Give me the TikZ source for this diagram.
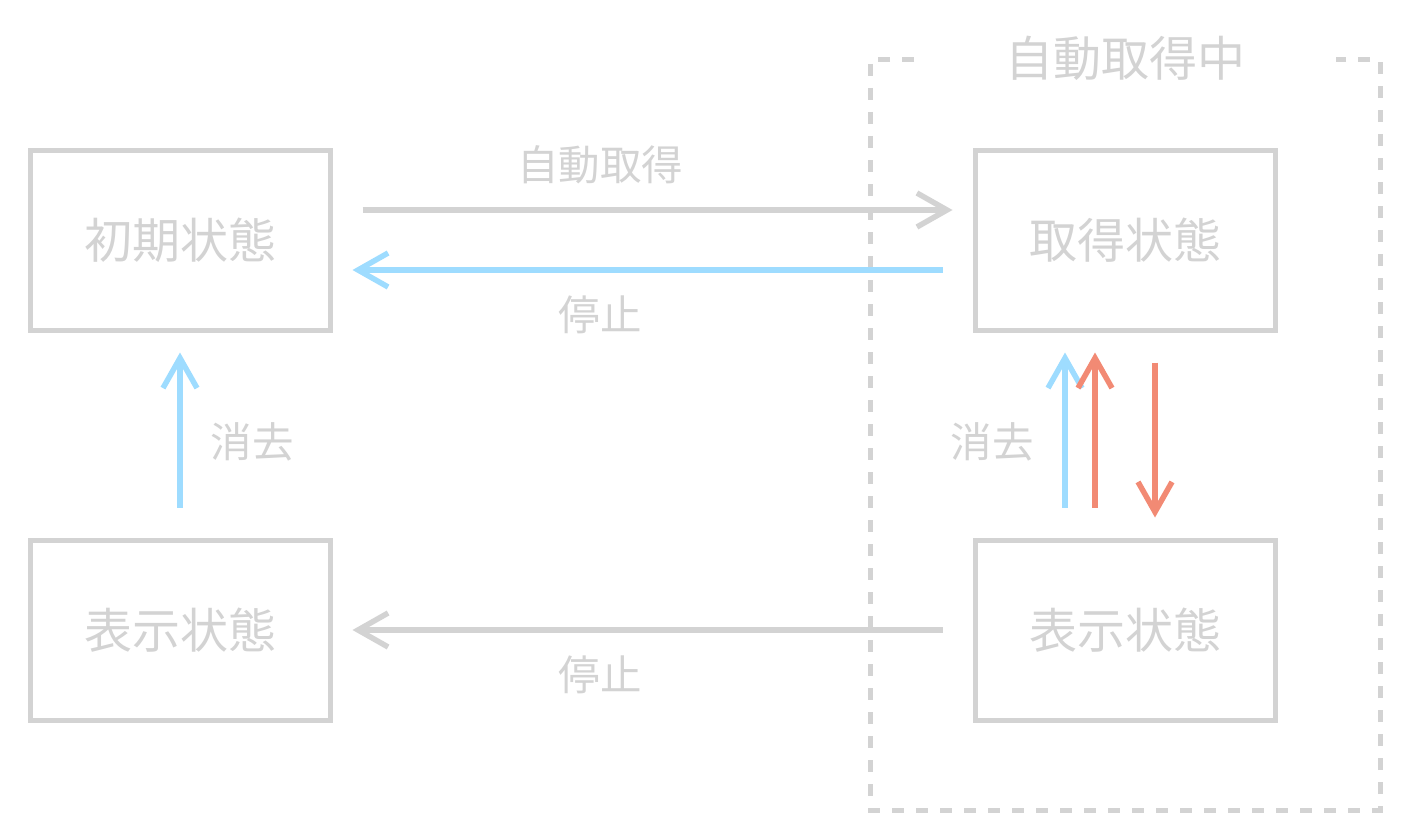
\documentclass[tikz,border=0pt]{standalone}
\usepackage{fontspec}
\setmainfont{Noto Sans CJK JP}
\usetikzlibrary{arrows.meta}
\definecolor{lgray}{HTML}{D3D3D3}
\definecolor{lblue}{HTML}{9EDCFF}
\definecolor{salmon}{HTML}{F28A74}
\tikzset{
  statebox/.style={draw=lgray, line width=5pt, minimum width=300pt, minimum height=180pt, inner sep=0pt, text=lgray, font=\fontsize{48}{54}\selectfont},
  lbl/.style={text=lgray, font=\fontsize{41.5}{46}\selectfont, inner sep=0pt},
  conn/.style={line width=5.5pt, -{Straight Barb[length=30pt,width=34pt,line width=5.5pt]}},
  frame/.style={draw=lgray, line width=5pt, dash pattern=on 12pt off 12pt},
}
\begin{document}
\begin{tikzpicture}[x=1pt,y=-1pt]
\useasboundingbox (0,0) rectangle (1410,840);
% dashed group frame
\draw[frame] (914,60) -- (870,60) -- (870,810) -- (1380,810) -- (1380,60) -- (1336,60);
\node[text=lgray, font=\fontsize{48}{54}\selectfont, inner sep=0pt] (grp) at (1125,58) {自動取得中};
% states
\node[statebox] (init) at (180,240) {初期状態};
\node[statebox] (disp) at (180,630) {表示状態};
\node[statebox] (acq) at (1125,240) {取得状態};
\node[statebox] (disp2) at (1125,630) {表示状態};
% arrows (yshift is in canvas units: positive = up)
\draw[conn, lgray] ([xshift=30pt,yshift=30pt]init.east) -- ([xshift=-20pt,yshift=30pt]acq.west);
\draw[conn, lblue] ([xshift=-30pt,yshift=-30pt]acq.west) -- ([xshift=20pt,yshift=-30pt]init.east);
\draw[conn, lgray] ([xshift=-30pt]disp2.west) -- ([xshift=20pt]disp.east);
\draw[conn, lblue] ([yshift=30pt]disp.north) -- ([yshift=-20pt]init.south);
\draw[conn, lblue] ([xshift=-60pt,yshift=30pt]disp2.north) -- ([xshift=-60pt,yshift=-20pt]acq.south);
\draw[conn, salmon] ([xshift=-30pt,yshift=30pt]disp2.north) -- ([xshift=-30pt,yshift=-20pt]acq.south);
\draw[conn, salmon] ([xshift=30pt,yshift=-30pt]acq.south) -- ([xshift=30pt,yshift=20pt]disp2.north);
% labels
\node[lbl] (l1) at (600,165) {自動取得};
\node[lbl] (l2) at (600,315) {停止};
\node[lbl] (l3) at (252,442) {消去};
\node[lbl] (l4) at (600,675) {停止};
\node[lbl] (l5) at (992,442) {消去};
\end{tikzpicture}
\end{document}
